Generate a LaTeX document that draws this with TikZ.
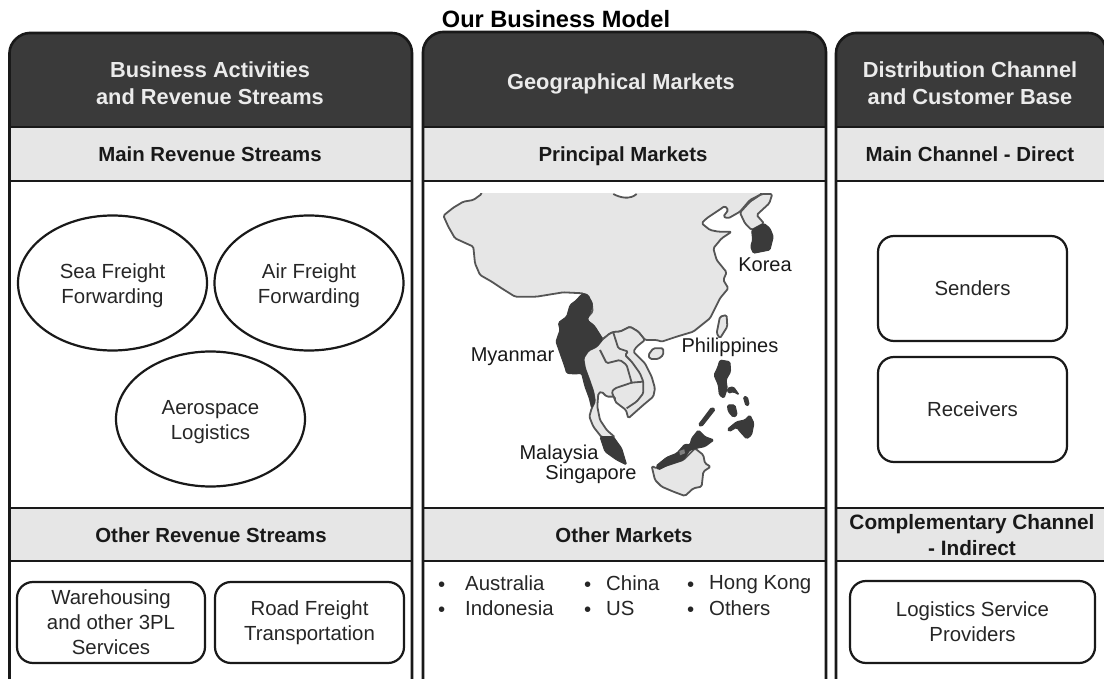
\documentclass[tikz,border=0pt]{standalone}
\usepackage{fontspec}
\setmainfont{Liberation Sans}
\usetikzlibrary{shapes.geometric}
\definecolor{hdark}{HTML}{3A3A3A}
\definecolor{hlight}{HTML}{E6E6E6}
\definecolor{mapline}{HTML}{555555}
\newcommand{\lift}{\rule{0pt}{21pt}}
\tikzset{
  framed/.style={line width=2.6pt,draw=black!90},
  txt/.style={font=\fontsize{20.4}{25}\selectfont,align=center,text=black!85,inner sep=0pt},
  head/.style={font=\fontsize{21.8}{27}\selectfont\bfseries,align=center,text=white!92!black,inner sep=0pt},
  sub/.style={font=\fontsize{20.4}{26}\selectfont\bfseries,align=center,text=black!90,inner sep=0pt},
  oval/.style={ellipse,draw=black!90,line width=2.2pt,fill=white,inner sep=0pt,txt,minimum width=189pt,minimum height=135pt},
  rbox/.style={rounded corners=16pt,draw=black!90,line width=2.2pt,fill=white,txt},
  land/.style={fill=hlight,draw=mapline,line width=1.8pt,line join=round,rounded corners=1.5pt},
  inner/.style={draw=mapline,line width=1.8pt,line join=round,rounded corners=1.5pt},
  dark/.style={fill=hdark,draw=hdark,line width=1pt,line join=round,rounded corners=1.5pt},
  mapl/.style={txt,font=\fontsize{20}{24}\selectfont,text=black!90},
  bul/.style={txt,anchor=west}
}
\begin{document}
\begin{tikzpicture}[x=1pt,y=-1pt]
\useasboundingbox (0,0) rectangle (1104,679);
\fill[white] (0,0) rectangle (1104,679);
\node[font=\fontsize{23.6}{28}\selectfont\bfseries,inner sep=0pt,text=black] (title) at (556,19) {Our Business Model};
% column 1
\fill[hdark] (9.5,127) -- (9.5,53) .. controls (9.5,42) and (20,33) .. (29.5,33) -- (392,33) .. controls (403,33) and (412,42) .. (412,53) -- (412,127) -- cycle;
\fill[hlight] (9.5,127) rectangle (412,181);
\fill[hlight] (9.5,508) rectangle (412,561);
\draw[framed] (9.5,680) -- (9.5,53) .. controls (9.5,42) and (20,33) .. (29.5,33) -- (392,33) .. controls (403,33) and (412,42) .. (412,53) -- (412,680);
\draw[framed] (9.5,127) -- (412,127) (9.5,181) -- (412,181) (9.5,508) -- (412,508) (9.5,561) -- (412,561);
% column 2
\fill[hdark] (423,127) -- (423,52) .. controls (423,41) and (433,32) .. (443,32) -- (806,32) .. controls (817,32) and (826,41) .. (826,52) -- (826,127) -- cycle;
\fill[hlight] (423,127) rectangle (826,181);
\fill[hlight] (423,508) rectangle (826,561);
\draw[framed] (423,680) -- (423,52) .. controls (423,41) and (433,32) .. (443,32) -- (806,32) .. controls (817,32) and (826,41) .. (826,52) -- (826,680);
\draw[framed] (423,127) -- (826,127) (423,181) -- (826,181) (423,508) -- (826,508) (423,561) -- (826,561);
% column 3
\fill[hdark] (836,127) -- (836,53) .. controls (836,42) and (846,33) .. (856,33) -- (1088,33) .. controls (1097,33) and (1103,38) .. (1106,48) -- (1106,127) -- cycle;
\fill[hlight] (836,127) rectangle (1104,181);
\fill[hlight] (836,508) rectangle (1104,561);
\draw[framed] (836,680) -- (836,53) .. controls (836,42) and (846,33) .. (856,33) -- (1088,33) .. controls (1097,33) and (1103,38) .. (1106,48);
\draw[framed] (836,127) -- (1104,127) (836,181) -- (1104,181) (836,508) -- (1104,508) (836,561) -- (1104,561);
% headers
\node[head] (h1) at (210,83) {Business Activities\\and Revenue Streams};
\node[head] (h2) at (621,84) {Geographical Markets};
\node[head] (h3) at (970,83) {Distribution Channel\\and Customer Base};
\node[sub] (s1) at (210,154) {Main Revenue Streams};
\node[sub] (s2) at (623,156) {Principal Markets};
\node[sub] (s3) at (970,154) {Main Channel - Direct};
\node[sub] (o1) at (211,535) {Other Revenue Streams};
\node[sub] (o2) at (624,535) {Other Markets};
\node[sub,font=\fontsize{20.8}{26}\selectfont\bfseries] (o3) at (972,535) {Complementary Channel\\- Indirect};
% ovals
\node[oval] (sea) at (112.5,283) {\lift Sea Freight\\Forwarding};
\node[oval] (air) at (309,283) {\lift Air Freight\\Forwarding};
\node[oval] (aero) at (210.5,419) {\lift Aerospace\\Logistics};
% boxes
\node[rbox,minimum width=188pt,minimum height=81pt] (ware) at (111,622.5) {Warehousing\\and other 3PL\\Services};
\node[rbox,minimum width=189pt,minimum height=81pt] (road) at (309.5,622.5) {Road Freight\\Transportation};
\node[rbox,minimum width=189pt,minimum height=105pt] (send) at (972.5,288.5) {Senders};
\node[rbox,minimum width=189pt,minimum height=105pt] (recv) at (972.5,409.5) {Receivers};
\node[rbox,minimum width=245pt,minimum height=82pt] (lsp) at (972.5,622) {Logistics Service\\Providers};
% other markets
\node[bul] (b1) at (438,587) {•}; \node[bul] (m1) at (465,583) {Australia};
\node[bul] (b2) at (438,612) {•}; \node[bul] (m2) at (465,608) {Indonesia};
\node[bul] (b3) at (584,587) {•}; \node[bul] (m3) at (606,583) {China};
\node[bul] (b4) at (584,612) {•}; \node[bul] (m4) at (606,608) {US};
\node[bul] (b5) at (687,587) {•}; \node[bul] (m5) at (709,585) {Hong Kong};
\node[bul] (b6) at (687,612) {•}; \node[bul] (m6) at (709,608) {Others};
% map
\begin{scope}[shift={(430,185)},x=0.3333pt,y=-0.3333pt]
\clip (0,27) rectangle (1100,935);
% China
\draw[land] (155,27) -- (130,45) -- (100,50) -- (70,68) -- (40,92) -- (55,125) -- (75,160) -- (130,185) -- (135,235) -- (150,270) -- (185,290) -- (215,310) -- (255,335) -- (320,335) -- (400,322) -- (460,325) -- (485,350) -- (488,380) -- (465,405) -- (490,420) -- (518,463) -- (540,445) -- (555,440) -- (570,440) -- (600,425) -- (625,440) -- (645,465) -- (680,465) -- (695,470) -- (740,455) -- (790,440) -- (840,400) -- (870,340) -- (895,310) -- (880,285) -- (890,262) -- (860,225) -- (850,190) -- (875,160) -- (905,140) -- (865,140) -- (840,135) -- (815,115) -- (830,100) -- (885,63) -- (895,75) -- (880,95) -- (895,100) -- (930,80) -- (960,45) -- (995,27) -- (995,15) -- (155,15) -- cycle;
\fill[white] (545,15) -- (550,27) -- (600,42) -- (625,15) -- cycle;
\draw[mapline,line width=1.8pt] (550,27) .. controls (570,38) and (600,45) .. (620,27);
% Islands
\draw[land] (655,510) -- (670,490) -- (700,490) -- (700,510) -- (685,522) -- (660,522) -- cycle;
\draw[land] (860,445) -- (870,395) -- (890,390) -- (892,425) -- (870,460) -- cycle;
% Korea
\begin{scope}[shift={(780,15)}]
\draw[land] (150,68) -- (180,35) -- (215,12) -- (247,12) -- (238,40) -- (200,75) -- (222,100) -- (185,120) -- (165,100) -- cycle;
\draw[dark] (185,120) -- (222,100) -- (240,115) -- (250,140) -- (240,180) -- (190,190) -- (182,170) -- (188,150) -- cycle;
\end{scope}
% Indochina
\begin{scope}[shift={(360,285)}]
\draw[land] (158,178) -- (180,160) -- (195,155) -- (210,155) -- (240,140) -- (265,155) -- (285,180) -- (260,200) -- (250,215) -- (285,250) -- (305,290) -- (315,325) -- (310,350) -- (280,375) -- (235,415) -- (228,390) -- (195,365) -- (195,350) -- (170,350) -- (155,335) -- (145,340) -- (142,380) -- (150,420) -- (170,450) -- (195,472) -- (155,472) -- (130,440) -- (118,410) -- (125,385) -- (135,365) -- (130,335) -- (118,300) -- (105,265) -- (100,235) -- (115,212) -- (140,200) -- cycle;
\draw[inner] (190,158) -- (205,205) -- (235,215) -- (225,225) -- (245,245) -- (270,280) -- (280,305) -- (280,340) -- (260,365) -- (230,385)
  (150,210) -- (170,250) -- (210,240) -- (230,255) -- (245,308)
  (280,305) -- (245,308) -- (195,325) -- (185,335) -- (195,360);
% Myanmar
\draw[dark] (100,40) -- (115,45) -- (128,75) -- (122,95) -- (112,120) -- (135,140) -- (158,178) -- (140,200) -- (115,212) -- (100,235) -- (105,265) -- (118,300) -- (130,335) -- (135,365) -- (125,385) -- (118,355) -- (105,320) -- (95,280) -- (75,282) -- (50,280) -- (45,262) -- (32,225) -- (18,185) -- (30,150) -- (25,128) -- (50,110) -- (60,75) -- (80,60) -- (90,48) -- cycle;
\end{scope}
% Malay Peninsula
\draw[dark] (510,755) -- (550,755) -- (575,790) -- (590,840) -- (560,825) -- (525,800) -- cycle;
% Philippines and Borneo
\begin{scope}[shift={(630,465)}]
\draw[dark] (240,60) -- (270,65) -- (272,95) -- (258,120) -- (262,145) -- (252,175) -- (238,165) -- (235,135) -- (222,105) -- (232,85) -- cycle;
\draw[dark] (262,145) -- (280,140) -- (298,165) -- (280,155) -- (265,160) -- cycle;
\draw[dark] (310,170) -- (322,170) -- (328,195) -- (318,198) -- cycle;
\draw[dark] (262,195) -- (285,195) -- (292,225) -- (280,232) -- (265,215) -- cycle;
\draw[dark] (262,268) -- (290,245) -- (315,240) -- (330,225) -- (342,250) -- (335,285) -- (320,297) -- (300,275) -- (290,262) -- (268,275) -- cycle;
\draw[dark] (175,255) -- (215,202) -- (226,208) -- (185,260) -- cycle;
\draw[land] (35,378) -- (50,385) -- (85,375) -- (130,360) -- (165,325) -- (190,345) -- (195,370) -- (212,380) -- (190,395) -- (185,440) -- (160,445) -- (135,468) -- (100,455) -- (65,440) -- (45,420) -- cycle;
\draw[dark] (48,378) -- (80,352) -- (110,340) -- (135,312) -- (150,315) -- (155,295) -- (175,270) -- (195,290) -- (222,300) -- (195,320) -- (170,325) -- (150,330) -- (130,360) -- (85,375) -- (55,390) -- cycle;
\fill[gray] (118,333) -- (133,328) -- (135,340) -- (120,346) -- cycle;
\end{scope}
\end{scope}
\node[mapl] (korea) at (765,264.5) {Korea};
\node[mapl] (phil) at (730,347) {Philippines};
\node[mapl] (myan) at (512.5,357) {Myanmar};
\node[mapl] (mala) at (559,454) {Malaysia};
\node[mapl] (sing) at (591,474.5) {Singapore};
\end{tikzpicture}
\end{document}
